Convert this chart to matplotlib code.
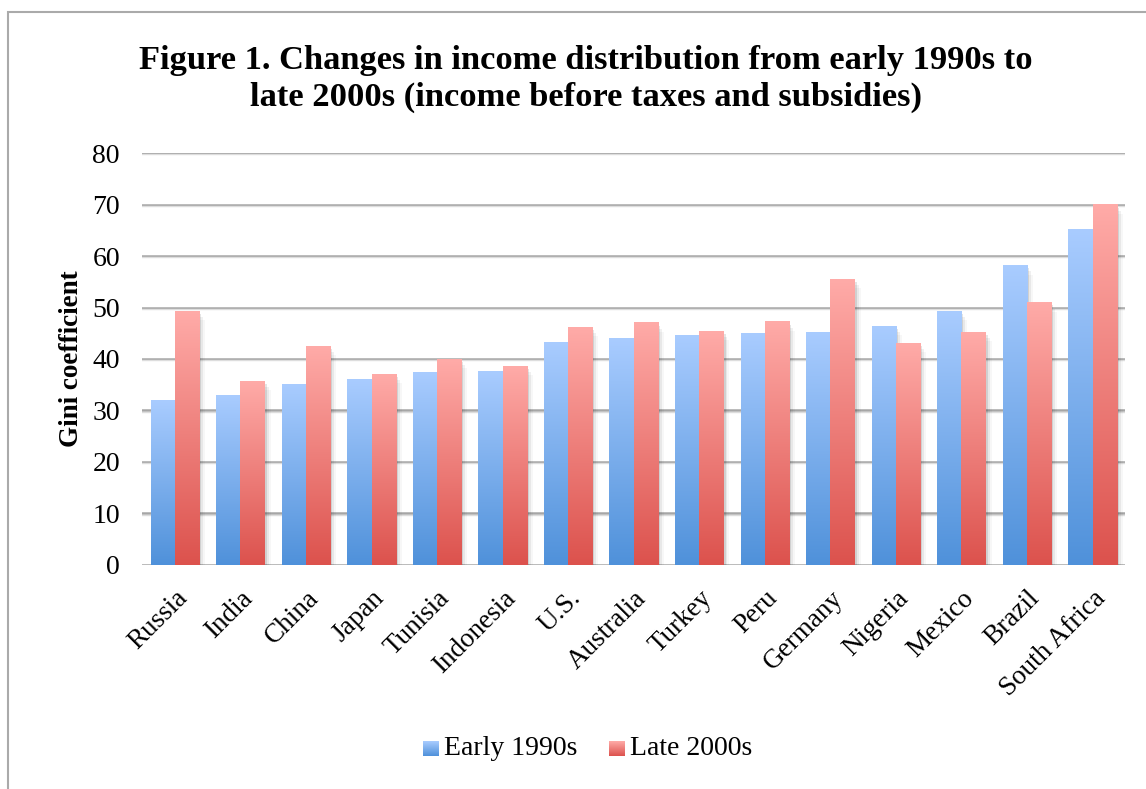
import numpy as np
import matplotlib
matplotlib.use("Agg")
import matplotlib.pyplot as plt
from matplotlib.colors import LinearSegmentedColormap
from matplotlib.patches import Rectangle

countries = ["Russia", "India", "China", "Japan", "Tunisia", "Indonesia", "U.S.",
             "Australia", "Turkey", "Peru", "Germany", "Nigeria", "Mexico", "Brazil",
             "South Africa"]
early_1990s = [32.0, 33.0, 35.1, 36.1, 37.3, 37.6, 43.3, 43.9, 44.6, 45.0, 45.2,
               46.4, 49.3, 58.2, 65.2]
late_2000s = [49.3, 35.7, 42.5, 37.1, 40.0, 38.6, 46.2, 47.1, 45.4, 47.3, 55.5,
              43.1, 45.2, 51.0, 70.0]
yticks = [0, 10, 20, 30, 40, 50, 60, 70, 80]

plt.rcParams['font.family'] = ['Liberation Serif', 'DejaVu Serif']

blue_cmap = LinearSegmentedColormap.from_list("blue", ["#4f91da", "#a9ccff"])
red_cmap = LinearSegmentedColormap.from_list("red", ["#dc524d", "#ffaba8"])

fig = plt.figure(figsize=(11.46, 7.89), dpi=100)
ax = fig.add_axes([0.124, 0.284, 0.858, 0.522])

x = np.arange(len(countries))
w = 0.37
grad = np.linspace(0, 1, 256).reshape(-1, 1)


def gradient_bars(xs, vals, cmap):
    for xi, v in zip(xs, vals):
        # soft shadow to the right
        for k, a in enumerate([0.10, 0.06, 0.03]):
            off = 0.03 + 0.03 * k
            ax.add_patch(Rectangle((xi - w / 2 + off, 0), w, v - 0.6 * (k + 1),
                                   facecolor="black", alpha=a, linewidth=0,
                                   zorder=2))
        ax.imshow(grad, cmap=cmap, origin="lower", aspect="auto",
                  extent=(xi - w / 2, xi + w / 2, 0, v), zorder=3,
                  interpolation="bilinear")


for t in yticks:
    ax.axhline(t, color="#a6a6a6", linewidth=1.8, zorder=1)
    ax.axhline(t - 0.25, color="#dddddd", linewidth=1.0, zorder=1)

gradient_bars(x - w / 2, early_1990s, blue_cmap)
gradient_bars(x + w / 2, late_2000s, red_cmap)

ax.set_xlim(-0.5, len(countries) - 0.5)
ax.set_ylim(0, 80)
ax.set_yticks(yticks)
ax.set_yticklabels([str(t) for t in yticks], fontsize=20)
ax.set_xticks(x)
ax.set_xticklabels(countries, rotation=45, ha="right", rotation_mode="anchor",
                   fontsize=19.5)
ax.tick_params(axis="both", length=0)
ax.tick_params(axis="y", pad=16)
ax.tick_params(axis="x", pad=15)
for s in ax.spines.values():
    s.set_visible(False)

ax.set_ylabel("Gini coefficient", fontsize=19.5, fontweight="bold", labelpad=6)

fig.text(0.511, 0.923, "Figure 1. Changes in income distribution from early 1990s to",
         ha="center", va="center", fontsize=24.8, fontweight="bold")
fig.text(0.511, 0.876, "late 2000s (income before taxes and subsidies)",
         ha="center", va="center", fontsize=24.8, fontweight="bold")

# legend with gradient squares
lx = [0.369, 0.531]
labels = ["Early 1990s", "Late 2000s"]
for px, lab, cm in zip(lx, labels, [blue_cmap, red_cmap]):
    iax = fig.add_axes([px, 0.042, 0.0131, 0.019])
    iax.imshow(grad, cmap=cm, origin="lower", aspect="auto")
    iax.axis("off")
    fig.text(px + 0.0185, 0.051, lab, ha="left", va="center", fontsize=20)

# chart frame
fig.add_artist(Rectangle((0.007, -0.05), 1.1, 1.035, transform=fig.transFigure,
                         fill=False, edgecolor="#aaaaaa", linewidth=1.5))

fig.savefig("out.png", dpi=100)
